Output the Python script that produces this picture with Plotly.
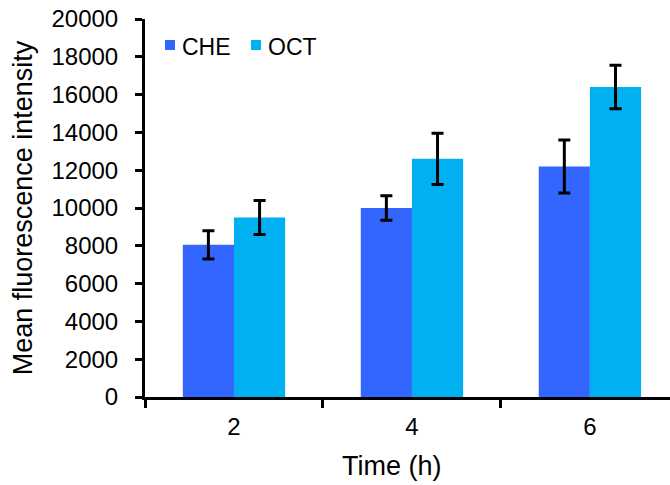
import plotly.graph_objects as go

times = ["2", "4", "6"]
series_names = ["CHE", "OCT"]
series_colors = ["#3366FF", "#00B0F0"]
che_vals = [8050, 10000, 12200]
che_err = [750, 650, 1400]
oct_vals = [9500, 12600, 16400]
oct_err = [900, 1350, 1150]
y_ticks = list(range(0, 20001, 2000))

font = "Liberation Sans, Arial, sans-serif"
fig = go.Figure()
for name, color, vals, errs in zip(series_names, series_colors,
                                   [che_vals, oct_vals], [che_err, oct_err]):
    fig.add_trace(go.Bar(x=times, y=vals, name=name,
                         marker=dict(color=color, line=dict(width=0)),
                         error_y=dict(type="data", array=errs, color="black",
                                      thickness=3, width=6),
                         showlegend=False))

# plot area in pixels: x 145..670, y 19..397
L, R, T, B = 145, 670, 19, 397
def px(x):
    return (x - L) / (R - L)
def py(y):
    return (B - y) / (B - T)

# manual legend
leg_sq_x = [165, 251]
for name, color, sx in zip(series_names, series_colors, leg_sq_x):
    fig.add_shape(type="rect", xref="paper", yref="paper",
                  x0=px(sx), x1=px(sx + 10), y0=py(50), y1=py(40),
                  fillcolor=color, line=dict(width=0))
    fig.add_annotation(xref="paper", yref="paper", x=px(sx + 15), y=py(47),
                       text=name, showarrow=False, xanchor="left", yanchor="middle",
                       font=dict(size=23, family=font, color="black"))

# x-axis title
fig.add_annotation(xref="paper", yref="paper", x=px(392), y=py(466),
                   text="Time (h)", showarrow=False, xanchor="center", yanchor="middle",
                   font=dict(size=27, family=font, color="black"))

fig.update_layout(
    width=670, height=485,
    margin=dict(l=L, r=670 - R, t=T, b=485 - B),
    plot_bgcolor="white", paper_bgcolor="white",
    barmode="group", bargap=0.425, bargroupgap=0,
    font=dict(family=font, size=23, color="black"),
    xaxis=dict(type="category", range=[-0.5, 2.45], tickson="boundaries",
               ticks="outside", ticklen=8, tickwidth=3, tickcolor="black",
               showline=True, linecolor="black", linewidth=3,
               showgrid=False, tickfont=dict(size=24), ticklabelstandoff=6),
    yaxis=dict(range=[0, 20000], tickvals=y_ticks, ticktext=[str(v) for v in y_ticks],
               ticks="outside", ticklen=7, tickwidth=3, tickcolor="black",
               showline=True, linecolor="black", linewidth=3,
               showgrid=False, zeroline=False, tickfont=dict(size=24),
               ticklabelstandoff=12,
               title=dict(text="Mean fluorescence intensity", font=dict(size=27), standoff=12)),
)
fig.write_html("out.html")
